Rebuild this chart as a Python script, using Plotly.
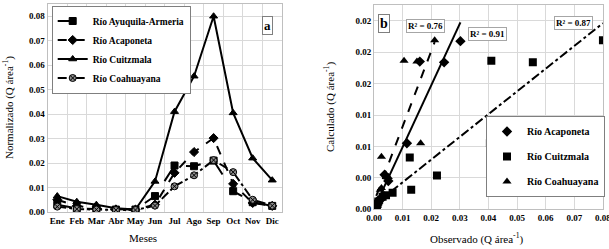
import numpy as np
import plotly.graph_objects as go

W, H = 609, 249

months = ["Ene", "Feb", "Mar", "Abr", "May", "Jun", "Jul", "Ago", "Sep", "Oct", "Nov", "Dic"]

# Panel a: normalized monthly flow (Q área^-1)
ayuquila = [0.0030, 0.0015, 0.0012, 0.0010, 0.0010, 0.0065, 0.0190, 0.0187, 0.0210, 0.0085, 0.0040, 0.0025]
acaponeta = [0.0050, 0.0025, 0.0015, 0.0010, 0.0010, 0.0030, 0.0160, 0.0245, 0.0302, 0.0115, 0.0037, 0.0025]
cuitzmala = [0.0065, 0.0042, 0.0030, 0.0015, 0.0010, 0.0125, 0.0410, 0.0555, 0.0800, 0.0405, 0.0220, 0.0130]
coahuayana = [0.0022, 0.0012, 0.0010, 0.0008, 0.0008, 0.0026, 0.0105, 0.0150, 0.0212, 0.0163, 0.0050, 0.0026]

# Panel b: calculated vs observed (observed = panel a values)
acaponeta_calc = [0.0036, 0.0014, 0.0008, 0.0005, 0.0003, 0.0016, 0.0188, 0.0187, 0.0214, 0.0084, 0.0044, 0.0013]
cuitzmala_calc = [0.0021, 0.0018, 0.0016, 0.0010, 0.0003, 0.0066, 0.0189, 0.0187, 0.0215, 0.0084, 0.0043, 0.0025]
coahuayana_calc = [0.0025, 0.0012, 0.0010, 0.0008, 0.0006, 0.0067, 0.0189, 0.0188, 0.0215, 0.0084, 0.0041, 0.0027]

r2_labels = ["R² = 0.91", "R² = 0.87", "R² = 0.76"]

ya_ticks = [0.00, 0.01, 0.02, 0.03, 0.04, 0.05, 0.06, 0.07, 0.08]
xb_ticks = [0.00, 0.01, 0.02, 0.03, 0.04, 0.05, 0.06, 0.07, 0.08]
yb_ticks = [0.000, 0.004, 0.008, 0.012, 0.016, 0.020, 0.024]

SERIF = "Liberation Serif, Times New Roman, DejaVu Serif, serif"
GRID = "#d9d9d9"
FRAME = "#bfbfbf"


def px(x):
    return x / W


def py(y):
    return 1 - y / H


fig = go.Figure()

idx = list(range(len(months)))
series_a = [
    ("Río Ayuquila-Armeria", ayuquila, "square", "longdash", "black"),
    ("Río Acaponeta", acaponeta, "diamond", "dash", "black"),
    ("Río Cuitzmala", cuitzmala, "triangle-up", "solid", "black"),
    ("Río Coahuayana", coahuayana, "circle-x", "dashdot", "#8c8c8c"),
]
for name, vals, sym, dash, fill in series_a:
    fig.add_trace(go.Scatter(
        x=idx, y=vals, name=name, mode="lines+markers",
        line=dict(color="black", width=2, dash=dash),
        marker=dict(symbol=sym, size=7, color=fill, line=dict(color="black", width=1)),
        xaxis="x", yaxis="y", legend="legend",
    ))

# Panel b scatter + linear trendlines (least squares of each series)
series_b = [
    ("Río Acaponeta", acaponeta, acaponeta_calc, "diamond", 8, "solid"),
    ("Río Cuitzmala", cuitzmala, cuitzmala_calc, "square", 8, "dashdot"),
    ("Río Coahuayana", coahuayana, coahuayana_calc, "triangle-up", 8, "dash"),
]
for name, obs, calc, sym, size, dash in series_b:
    fig.add_trace(go.Scatter(
        x=obs, y=calc, name=name, mode="markers",
        marker=dict(symbol=sym, size=size, color="black"),
        xaxis="x2", yaxis="y2", legend="legend2", legendgroup=name,
    ))
for name, obs, calc, sym, size, dash in series_b:
    m, b = np.polyfit(obs, calc, 1)
    xs = np.array([min(obs), max(obs)])
    fig.add_trace(go.Scatter(
        x=xs, y=m * xs + b, mode="lines", showlegend=False,
        line=dict(color="black", width=2, dash=dash),
        xaxis="x2", yaxis="y2", hoverinfo="skip",
    ))

tickfont = dict(family=SERIF, size=9, color="black", weight="bold")

fig.update_layout(
    width=W, height=H,
    margin=dict(l=0, r=0, t=0, b=0, autoexpand=False),
    paper_bgcolor="white", plot_bgcolor="white",
    font=dict(family=SERIF, color="black"),
    xaxis=dict(
        domain=[px(47.5), px(282)], range=[-0.5, 11.5],
        tickmode="array", tickvals=idx, ticktext=months, showgrid=False, tickangle=0,
        minor=dict(tick0=-0.5, dtick=1, showgrid=True, gridcolor=GRID, gridwidth=1, ticks=""),
        showline=True, mirror=True, linecolor=FRAME, linewidth=1,
        ticks="", tickfont=tickfont, zeroline=False, anchor="y",
    ),
    yaxis=dict(
        domain=[py(212), py(4)], range=[0, 0.085],
        tickmode="array", tickvals=ya_ticks, tickformat=".2f",
        showgrid=True, gridcolor=GRID,
        showline=True, mirror=True, linecolor=FRAME, linewidth=1,
        ticks="", tickfont=tickfont, zeroline=False, anchor="x",
    ),
    xaxis2=dict(
        domain=[px(374), px(603)], range=[0, 0.08002],
        tickmode="array", tickvals=xb_ticks, tickformat=".2f", tickangle=0,
        ticklabeloverflow="allow",
        showgrid=True, gridcolor=GRID,
        showline=True, mirror=True, linecolor=FRAME, linewidth=1,
        ticks="", tickfont=tickfont, zeroline=False, anchor="y2",
    ),
    yaxis2=dict(
        domain=[py(209.3), py(5)], range=[0, 0.026],
        tickmode="array", tickvals=yb_ticks, tickformat=".2f",
        showgrid=True, gridcolor=GRID,
        showline=True, mirror=True, linecolor=FRAME, linewidth=1,
        ticks="", tickfont=tickfont, zeroline=False, anchor="x2",
    ),
    legend=dict(
        x=px(51.7), y=py(5.5), xanchor="left", yanchor="top",
        bgcolor="white", bordercolor="#7f7f7f", borderwidth=1,
        font=dict(family=SERIF, size=9.5, color="black", weight="bold"),
        tracegroupgap=0, itemwidth=30,
    ),
    legend2=dict(
        x=px(486), y=py(116), xanchor="left", yanchor="top",
        bgcolor="white", bordercolor="#7f7f7f", borderwidth=1,
        font=dict(family=SERIF, size=10, color="black", weight="bold"),
        tracegroupgap=6, itemwidth=30,
    ),
    showlegend=True,
)

ann = []
common = dict(showarrow=False, xref="paper", yref="paper", xanchor="center", yanchor="middle")
# Panel labels
ann.append(dict(x=px(267.5), y=py(25), text="<b>a</b>",
                font=dict(family=SERIF, size=13, color="black"), bgcolor="white",
                bordercolor="#7f7f7f", borderwidth=1, borderpad=1, **common))
ann.append(dict(x=px(384.5), y=py(23), text="<b>b</b>",
                font=dict(family=SERIF, size=14, color="black"), bgcolor="white",
                bordercolor="#7f7f7f", borderwidth=1, borderpad=1, **common))
# R² labels
r2_pos = [(487, 34), (573, 23), (425, 26)]
for lab, (x, y) in zip(r2_labels, r2_pos):
    ann.append(dict(x=px(x), y=py(y), text="<b>" + lab + "</b>",
                    font=dict(family=SERIF, size=9, color="black"), bgcolor="white",
                    bordercolor="#a6a6a6", borderwidth=1, borderpad=1, **common))
# Axis titles
ann.append(dict(x=px(8), y=py(108), text="Normalizado (Q área<sup>-1</sup>)", textangle=-90,
                font=dict(family=SERIF, size=11, color="black"), **common))
ann.append(dict(x=px(143), y=py(238), text="Meses",
                font=dict(family=SERIF, size=11, color="black"), **common))
ann.append(dict(x=px(329), y=py(107), text="Calculado (Q área<sup>-1</sup>)", textangle=-90,
                font=dict(family=SERIF, size=11, color="black"), **common))
ann.append(dict(x=px(476), y=py(238), text="Observado (Q área<sup>-1</sup>)",
                font=dict(family=SERIF, size=11, color="black"), **common))
fig.update_layout(annotations=ann)

fig.write_html("out.html", config={"displayModeBar": False},
               post_script="document.body.style.margin='0px';document.body.style.overflow='hidden';")
